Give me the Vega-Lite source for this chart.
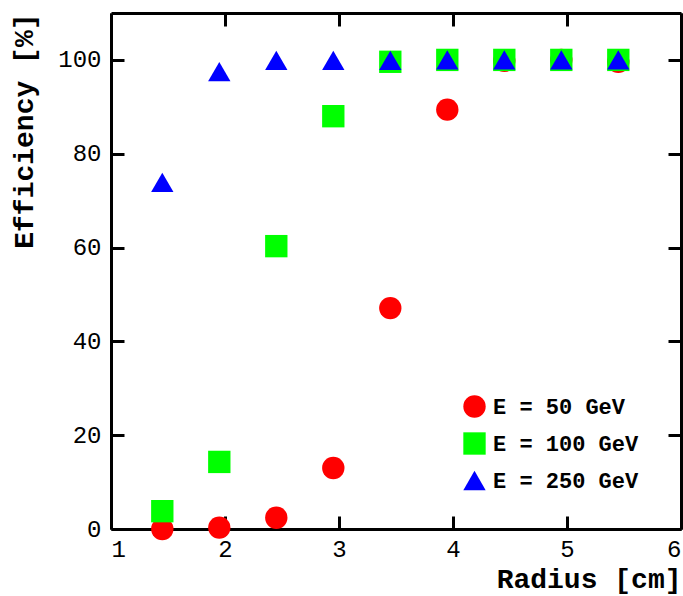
{
  "$schema": "https://vega.github.io/schema/vega-lite/v6.json",
  "width": 570,
  "height": 516,
  "autosize": {"type": "none"},
  "padding": {"left": 111, "top": 13, "right": 2, "bottom": 67},
  "background": "white",
  "view": {"stroke": null},
  "config": {
    "axis": {
      "domainColor": "black",
      "domainWidth": 3,
      "tickColor": "black",
      "tickWidth": 3,
      "tickSize": -13,
      "grid": false,
      "labelFont": "Liberation Mono",
      "labelFontSize": 24,
      "labelColor": "black",
      "titleFont": "Liberation Mono",
      "titleFontWeight": "bold",
      "titleFontSize": 28,
      "titleColor": "black",
      "titleAnchor": "end"
    }
  },
  "data": {
    "values": [
      {"radius": 1.45, "eff": 0.0, "series": "E = 50 GeV"},
      {"radius": 1.95, "eff": 0.3, "series": "E = 50 GeV"},
      {"radius": 2.45, "eff": 2.4, "series": "E = 50 GeV"},
      {"radius": 2.95, "eff": 13.0, "series": "E = 50 GeV"},
      {"radius": 3.45, "eff": 47.1, "series": "E = 50 GeV"},
      {"radius": 3.95, "eff": 89.4, "series": "E = 50 GeV"},
      {"radius": 4.45, "eff": 99.8, "series": "E = 50 GeV"},
      {"radius": 4.95, "eff": 100.0, "series": "E = 50 GeV"},
      {"radius": 5.45, "eff": 99.6, "series": "E = 50 GeV"},
      {"radius": 1.45, "eff": 3.8, "series": "E = 100 GeV"},
      {"radius": 1.95, "eff": 14.3, "series": "E = 100 GeV"},
      {"radius": 2.45, "eff": 60.3, "series": "E = 100 GeV"},
      {"radius": 2.95, "eff": 88.0, "series": "E = 100 GeV"},
      {"radius": 3.45, "eff": 99.6, "series": "E = 100 GeV"},
      {"radius": 3.95, "eff": 100.0, "series": "E = 100 GeV"},
      {"radius": 4.45, "eff": 100.0, "series": "E = 100 GeV"},
      {"radius": 4.95, "eff": 100.0, "series": "E = 100 GeV"},
      {"radius": 5.45, "eff": 100.0, "series": "E = 100 GeV"},
      {"radius": 1.45, "eff": 73.9, "series": "E = 250 GeV"},
      {"radius": 1.95, "eff": 97.5, "series": "E = 250 GeV"},
      {"radius": 2.45, "eff": 99.9, "series": "E = 250 GeV"},
      {"radius": 2.95, "eff": 99.9, "series": "E = 250 GeV"},
      {"radius": 3.45, "eff": 99.9, "series": "E = 250 GeV"},
      {"radius": 3.95, "eff": 100.0, "series": "E = 250 GeV"},
      {"radius": 4.45, "eff": 100.0, "series": "E = 250 GeV"},
      {"radius": 4.95, "eff": 100.0, "series": "E = 250 GeV"},
      {"radius": 5.45, "eff": 100.0, "series": "E = 250 GeV"}
    ]
  },
  "layer": [
    {
      "mark": {"type": "point", "filled": true, "opacity": 1, "size": 500, "strokeWidth": 0},
      "encoding": {
        "x": {
          "field": "radius", "type": "quantitative",
          "scale": {"domain": [1, 6], "nice": false, "zero": false},
          "axis": {"orient": "bottom", "title": "Radius [cm]", "titleFontSize": 28, "values": [1, 2, 3, 4, 5, 6], "labelPadding": 21, "titlePadding": 4, "format": "d"}
        },
        "y": {
          "field": "eff", "type": "quantitative",
          "scale": {"domain": [0, 110], "nice": false},
          "axis": {"orient": "left", "title": "Efficiency [%]", "values": [0, 20, 40, 60, 80, 100], "labelPadding": 23, "titlePadding": 19}
        },
        "color": {
          "field": "series", "type": "nominal",
          "scale": {"domain": ["E = 50 GeV", "E = 100 GeV", "E = 250 GeV"], "range": ["#ff0000", "#00ff00", "#0000ff"]},
          "legend": {
            "title": null,
            "orient": "none",
            "legendX": 352,
            "legendY": 382,
            "padding": 0,
            "rowPadding": 14,
            "labelFont": "Liberation Mono",
            "labelFontWeight": "bold",
            "labelFontSize": 22,
            "labelColor": "black",
            "labelOffset": 7,
            "symbolSize": 500,
            "symbolStrokeWidth": 0,
            "symbolOpacity": 1
          }
        },
        "shape": {
          "field": "series", "type": "nominal",
          "scale": {"domain": ["E = 50 GeV", "E = 100 GeV", "E = 250 GeV"], "range": ["circle", "square", "triangle-up"]}
        }
      }
    },
    {
      "mark": {"type": "point", "opacity": 0},
      "encoding": {
        "x": {
          "field": "radius", "type": "quantitative",
          "axis": {"orient": "top", "title": null, "labels": false, "values": [1, 2, 3, 4, 5, 6]}
        },
        "y": {
          "field": "eff", "type": "quantitative",
          "axis": {"orient": "right", "title": null, "labels": false, "values": [0, 20, 40, 60, 80, 100]}
        }
      }
    }
  ],
  "resolve": {"axis": {"x": "independent", "y": "independent"}}
}
